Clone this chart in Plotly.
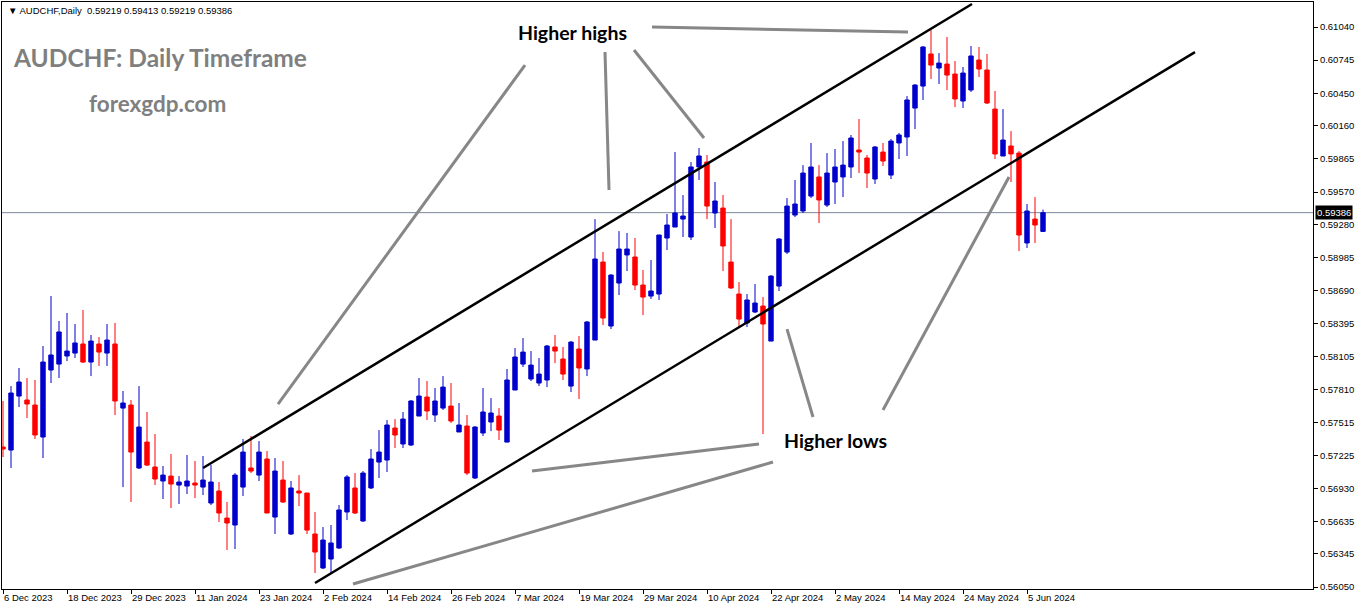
import plotly.graph_objects as go
import pandas as pd

# ---------------- data ----------------
dates = [d for d in pd.bdate_range("2023-12-06", "2024-06-07")
         if d.strftime("%m-%d") not in ("12-25", "01-01")]

opens = [0.57298,0.57271,0.57752,0.57717,0.57672,0.57387,0.57984,0.58037,0.58109,0.58135,
         0.58216,0.58055,0.58216,0.58135,0.58216,0.57645,0.57672,0.57111,0.57342,0.57120,
         0.56995,0.57039,0.56959,0.56950,0.56977,0.56941,0.56799,0.56906,0.56665,0.56603,
         0.56941,0.57111,0.57048,0.57191,0.56674,0.57004,0.56523,0.56906,0.56888,0.56523,
         0.56220,0.56300,0.56398,0.56719,0.56933,0.56639,0.56933,0.57164,0.57182,0.57467,
         0.57325,0.57316,0.57574,0.57743,0.57583,0.57645,0.57663,0.57432,0.57485,0.57022,
         0.57423,0.57521,0.57574,0.57342,0.57806,0.58037,0.57904,0.57868,0.57895,0.58189,
         0.58082,0.57841,0.58171,0.57993,0.58251,0.58946,0.58376,0.58759,0.59009,0.58991,
         0.58741,0.58643,0.58661,0.59160,0.59258,0.59329,0.59169,0.59793,0.59837,0.59383,
         0.59427,0.58946,0.58661,0.58403,0.58501,0.58554,0.58242,0.58732,0.59035,0.59365,
         0.59401,0.59534,0.59704,0.59454,0.59659,0.59704,0.59793,0.59944,0.59873,0.59686,
         0.59926,0.59721,0.60007,0.60060,0.60318,0.60514,0.60800,0.60675,0.60710,0.60621,
         0.60381,0.60479,0.60746,0.60657,0.60309,0.59891,0.59980,0.59917,0.59116,0.59329,
         0.59219]
highs = [0.57708,0.57841,0.58002,0.57913,0.57895,0.58198,0.58643,0.58421,0.58492,0.58394,
         0.58519,0.58296,0.58278,0.58394,0.58403,0.57797,0.57717,0.57841,0.57610,0.57414,
         0.57129,0.57236,0.57039,0.57227,0.57173,0.57218,0.57137,0.56986,0.56808,0.57066,
         0.57369,0.57396,0.57351,0.57262,0.57200,0.57173,0.56995,0.57048,0.56888,0.56719,
         0.56585,0.56603,0.56781,0.57048,0.57066,0.57084,0.57280,0.57449,0.57538,0.57547,
         0.57610,0.57717,0.57913,0.57886,0.57824,0.57930,0.57868,0.57690,0.57583,0.57485,
         0.57824,0.57734,0.57645,0.57993,0.58180,0.58269,0.58153,0.58091,0.58207,0.58296,
         0.58189,0.58242,0.58287,0.58421,0.59329,0.59035,0.58839,0.59222,0.59205,0.59160,
         0.58875,0.58964,0.59187,0.59374,0.59926,0.59543,0.59837,0.59962,0.59900,0.59659,
         0.59543,0.59329,0.58768,0.58661,0.58750,0.58634,0.58830,0.59160,0.59516,0.59677,
         0.59810,0.60007,0.59810,0.59917,0.59953,0.60024,0.60078,0.60220,0.59900,0.59980,
         0.60007,0.60042,0.60096,0.60425,0.60532,0.60871,0.61013,0.60808,0.60951,0.60737,
         0.60684,0.60871,0.60862,0.60800,0.60470,0.60309,0.60113,0.59935,0.59463,0.59525,
         0.59413]
lows = [0.57209,0.57111,0.57654,0.57556,0.57369,0.57200,0.57868,0.57913,0.58064,0.58091,
        0.58046,0.57930,0.58020,0.58020,0.57583,0.56941,0.56808,0.57102,0.57129,0.56959,
        0.56835,0.56754,0.56790,0.56879,0.56843,0.56870,0.56781,0.56630,0.56380,0.56389,
        0.56861,0.57066,0.56995,0.56710,0.56523,0.56799,0.56514,0.56772,0.56523,0.56175,
        0.56211,0.56166,0.56389,0.56647,0.56701,0.56630,0.56924,0.57022,0.57075,0.57289,
        0.57289,0.57307,0.57574,0.57538,0.57521,0.57628,0.57512,0.57432,0.57048,0.57013,
        0.57396,0.57440,0.57360,0.57342,0.57806,0.58011,0.57886,0.57841,0.57832,0.58046,
        0.57895,0.57788,0.57726,0.57930,0.58251,0.58385,0.58349,0.58652,0.58866,0.58697,
        0.58474,0.58617,0.58608,0.59053,0.59258,0.59169,0.59142,0.59677,0.59329,0.59249,
        0.58866,0.58706,0.58367,0.58367,0.58492,0.57414,0.58242,0.58688,0.59018,0.59347,
        0.59383,0.59516,0.59294,0.59436,0.59463,0.59525,0.59695,0.59739,0.59606,0.59641,
        0.59802,0.59686,0.59864,0.59891,0.60131,0.60390,0.60577,0.60532,0.60479,0.60327,
        0.60318,0.60461,0.60595,0.60354,0.59864,0.59891,0.59659,0.59044,0.59071,0.59116,
        0.59219]
closes = [0.57280,0.57779,0.57877,0.57681,0.57405,0.58055,0.58118,0.58323,0.58153,0.58225,
          0.58055,0.58242,0.58144,0.58251,0.57708,0.57690,0.57253,0.57476,0.57137,0.57013,
          0.57048,0.56968,0.56986,0.56995,0.56959,0.57004,0.56986,0.56710,0.56621,0.57048,
          0.57253,0.57084,0.57253,0.56710,0.57084,0.56808,0.56933,0.56888,0.56558,0.56362,
          0.56469,0.56443,0.56737,0.57031,0.56710,0.57066,0.57191,0.57253,0.57494,0.57405,
          0.57547,0.57708,0.57752,0.57619,0.57708,0.57832,0.57530,0.57494,0.57066,0.57476,
          0.57610,0.57601,0.57449,0.57895,0.58100,0.58144,0.58028,0.57948,0.58198,0.58153,
          0.57948,0.58233,0.58002,0.58412,0.58973,0.58447,0.58830,0.59062,0.59062,0.58741,
          0.58634,0.58688,0.59187,0.59276,0.59383,0.59356,0.59793,0.59891,0.59445,0.59490,
          0.59089,0.58715,0.58438,0.58608,0.58581,0.58394,0.58821,0.59151,0.59445,0.59463,
          0.59739,0.59793,0.59499,0.59739,0.59793,0.59810,0.60051,0.59926,0.59739,0.59971,
          0.59846,0.60024,0.60078,0.60390,0.60523,0.60862,0.60701,0.60719,0.60612,0.60399,
          0.60630,0.60782,0.60666,0.60363,0.59909,0.60033,0.59909,0.59187,0.59401,0.59276,
          0.59386]

y_tick_labels = ["0.61040","0.60745","0.60450","0.60160","0.59865","0.59570","0.59280",
                 "0.58985","0.58690","0.58395","0.58105","0.57810","0.57515","0.57225",
                 "0.56930","0.56635","0.56345","0.56050"]
bid_price = 0.59386
header_text = "\u25BC AUDCHF,Daily  0.59219 0.59413 0.59219 0.59386"

# channel lines (bar index, price)
upper_channel = [(25.0, 0.57111), (121.125, 0.61245)]
lower_channel = [(39.0, 0.56086), (149.0, 0.60817)]
# gray pointer lines (bar index, price)
pointer_lines = [
    [(34.375, 0.57681), (65.25, 0.60701)],
    [(75.25, 0.60817), (75.75, 0.59588)],
    [(78.875, 0.60835), (87.625, 0.60051)],
    [(81.125, 0.61040), (113.125, 0.60996)],
    [(66.125, 0.57084), (94.5, 0.57325)],
    [(43.75, 0.56077), (96.25, 0.57164)],
    [(98.0, 0.58349), (101.25, 0.57565)],
    [(110.0, 0.57628), (125.75, 0.59704)],
]

# ---------------- figure ----------------
x = list(range(len(dates)))
tick_idx = x[::8]
tick_text = [f"{dates[i].day} {dates[i].strftime('%b %Y')}" for i in tick_idx]

BLUE = "#0000CC"
RED = "#FF0000"

fig = go.Figure()
fig.add_trace(go.Candlestick(
    x=x, open=opens, high=highs, low=lows, close=closes,
    increasing=dict(line=dict(color=BLUE, width=1), fillcolor=BLUE),
    decreasing=dict(line=dict(color=RED, width=1), fillcolor=RED),
    whiskerwidth=0, hoverinfo="skip", showlegend=False,
))

shapes = []
shapes.append(dict(type="line", xref="paper", yref="y", x0=0, x1=1, y0=bid_price, y1=bid_price,
                   line=dict(color="#778899", width=1), layer="below"))
for seg in (upper_channel, lower_channel):
    shapes.append(dict(type="line", xref="x", yref="y", x0=seg[0][0], y0=seg[0][1],
                       x1=seg[1][0], y1=seg[1][1], line=dict(color="black", width=2.5)))
for seg in pointer_lines:
    shapes.append(dict(type="line", xref="x", yref="y", x0=seg[0][0], y0=seg[0][1],
                       x1=seg[1][0], y1=seg[1][1], line=dict(color="#878787", width=3)))

annotations = [
    dict(xref="paper", yref="paper", x=0.003, y=0.985, xanchor="left", yanchor="middle",
         text=header_text, showarrow=False,
         font=dict(family="Liberation Sans", size=9.5, color="black")),
    dict(xref="x", yref="y", x=1.0, y=0.60773, xanchor="left", yanchor="middle",
         text="<b>AUDCHF: Daily Timeframe</b>", showarrow=False,
         font=dict(family="Lato", size=24.5, color="#7F7F7F")),
    dict(xref="x", yref="y", x=19.25, y=0.60363, xanchor="center", yanchor="middle",
         text="<b>forexgdp.com</b>", showarrow=False,
         font=dict(family="Lato", size=22.5, color="#7F7F7F")),
    dict(xref="x", yref="y", x=71.125, y=0.60995, xanchor="center", yanchor="middle",
         text="<b>Higher highs</b>", showarrow=False,
         font=dict(family="Lato", size=19.5, color="black")),
    dict(xref="x", yref="y", x=104.0, y=0.57360, xanchor="center", yanchor="middle",
         text="<b>Higher lows</b>", showarrow=False,
         font=dict(family="Lato", size=19.5, color="black")),
    dict(xref="paper", yref="y", x=1, y=bid_price, xanchor="left", yanchor="middle",
         xshift=2, text=f"{bid_price:.5f}", showarrow=False, bgcolor="black",
         borderpad=1, font=dict(family="Liberation Sans", size=9.5, color="white")),
]

fig.update_layout(
    width=1362, height=611,
    margin=dict(l=2, r=49, t=2, b=22),
    paper_bgcolor="white", plot_bgcolor="white",
    showlegend=False, hovermode=False,
    boxgap=0.45, boxgroupgap=0,
    shapes=shapes, annotations=annotations,
)
fig.update_xaxes(
    range=[-0.125, 163.75], tickmode="array", tickvals=tick_idx, ticktext=tick_text,
    ticks="outside", ticklen=4, tickcolor="black", showline=True, linecolor="black",
    linewidth=1, mirror=True, showgrid=False, zeroline=False,
    rangeslider=dict(visible=False), ticklabelposition="outside right", automargin=False,
    tickfont=dict(family="Liberation Sans", size=9.5, color="black"),
)
fig.update_yaxes(
    side="right", range=[0.56033, 0.61263], tickmode="array",
    tickvals=[float(t) for t in y_tick_labels], ticktext=y_tick_labels,
    ticks="outside", ticklen=4, tickcolor="black", showline=True, linecolor="black",
    linewidth=1, mirror=True, showgrid=False, zeroline=False, automargin=False,
    tickfont=dict(family="Liberation Sans", size=9.5, color="black"),
)

fig.write_html("out.html")
